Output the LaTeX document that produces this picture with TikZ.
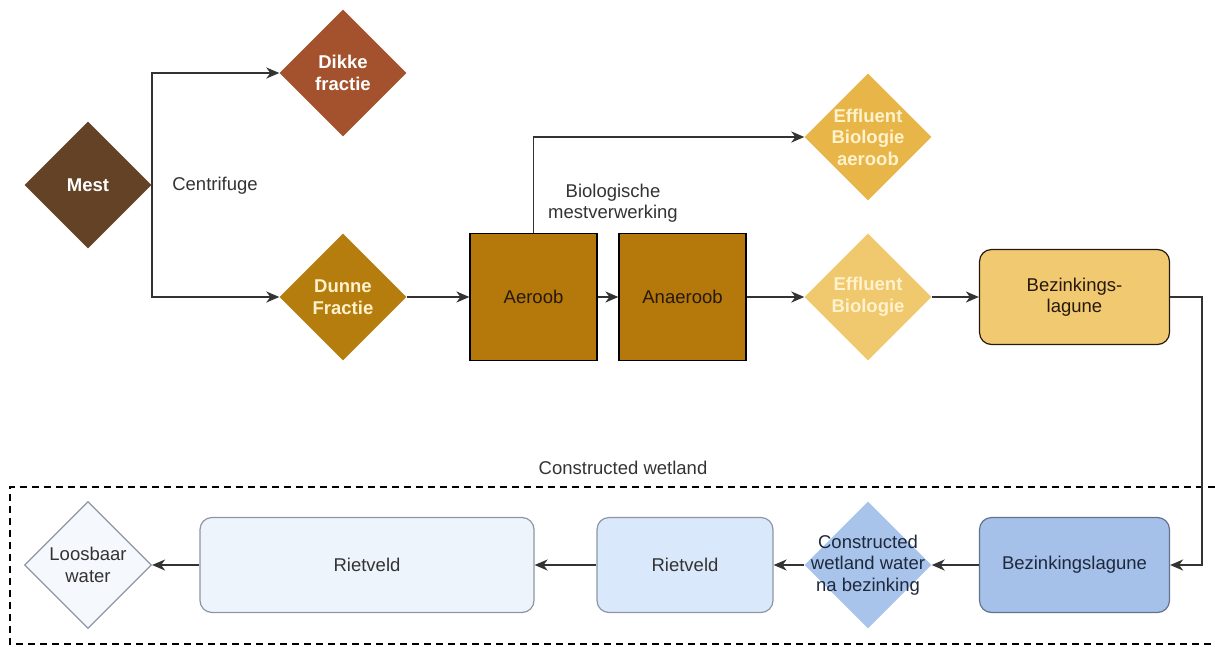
\documentclass[tikz,border=0pt]{standalone}
\usepackage{fontspec}
\setmainfont{Liberation Sans}
\usetikzlibrary{arrows.meta,shapes.geometric}

\definecolor{mestc}{RGB}{99,66,38}
\definecolor{dikkec}{RGB}{163,82,45}
\definecolor{dunnec}{RGB}{181,125,14}
\definecolor{boxc}{RGB}{181,120,10}
\definecolor{effac}{RGB}{231,181,72}
\definecolor{effc}{RGB}{240,200,110}
\definecolor{beztc}{RGB}{240,201,112}
\definecolor{bezbc}{RGB}{165,192,233}
\definecolor{cwwc}{RGB}{169,196,235}
\definecolor{rietac}{RGB}{218,232,252}
\definecolor{rietbc}{RGB}{238,244,252}
\definecolor{loosc}{RGB}{245,249,254}
\definecolor{linec}{RGB}{51,51,51}
\definecolor{cream}{RGB}{255,242,204}
\definecolor{navytext}{RGB}{30,40,60}
\definecolor{greyborder}{RGB}{140,150,165}

\begin{document}
\begin{tikzpicture}[x=1pt,y=-1pt,font=\fontsize{18.5}{21.5}\selectfont,node distance=149pt]

\tikzstyle{dia} = [diamond, minimum width=127pt, minimum height=127pt, inner sep=0pt, draw=none]
\tikzstyle{dtext} = [align=center, font=\fontsize{18.5}{21.5}\selectfont\bfseries]
\tikzstyle{sq} = [rectangle, minimum width=127pt, minimum height=127pt, draw=black, line width=1.2pt, fill=boxc, text=black!80!brown]
\tikzstyle{lag} = [rectangle, rounded corners=12pt, minimum width=190pt, minimum height=95pt, line width=1.2pt, align=center]
\tikzstyle{arr} = [draw=linec, line width=1.8pt, -{Stealth[length=13pt,width=11pt,inset=4pt]}]

\useasboundingbox (0,0) rectangle (1215,646);

% top part
\node (mest) [dia, fill=mestc, label={[dtext,text=white]center:Mest}] at (88,185) {};
\node (dikke) [dia, fill=dikkec, label={[dtext,text=white]center:Dikke\\fractie}] at (343,73) {};
\node (dunne) [dia, fill=dunnec, below of=dikke, node distance=224pt, label={[dtext,text=cream]center:Dunne\\Fractie}] {};
\node (aeroob) [sq] at (533.5,297) {Aeroob};
\node (anaeroob) [sq, right of=aeroob] {Anaeroob};
\node (effa) [dia, fill=effac, label={[dtext,text=cream]center:Effluent\\Biologie\\aeroob}] at (868,137) {};
\node (eff) [dia, fill=effc, below of=effa, node distance=160pt, label={[dtext,text=cream]center:Effluent\\Biologie}] {};
\node (bezt) [lag, fill=beztc, draw=black!80!brown, text=black!80!brown] at (1074.5,297) {Bezinkings-\\lagune};

\node (centrifuge) [text=linec] at (215,186) {Centrifuge};
\node (biolabel) [text=linec, align=center] at (613,203) {Biologische\\mestverwerking};

% constructed wetland
\node (cwlabel) [text=linec] at (623,468) {Constructed wetland};
\draw[dashed, dash pattern=on 7pt off 5pt, line width=1.2pt] (1215,487) -- (10,487) -- (10,644) -- (1215,644);

\node (bezb) [lag, fill=bezbc, draw=bezbc!60!black, text=navytext, below of=bezt, node distance=268pt] {Bezinkingslagune};
\node (cww) [dia, fill=cwwc, label={[align=center,text=navytext]center:Constructed\\wetland water\\na bezinking}] at (868,565) {};
\node (rieta) [lag, fill=rietac, draw=greyborder, text=linec, minimum width=176pt] at (685,565) {Rietveld};
\node (rietb) [lag, fill=rietbc, draw=greyborder, text=linec, minimum width=334pt] at (367,565) {Rietveld};
\node (loos) [dia, fill=loosc, draw=greyborder, line width=1.2pt, label={[align=center,text=linec]center:Loosbaar\\water}] at (88,565) {};

\draw[arr] (mest.east) |- (dikke.west);
\draw[arr] (mest.east) |- (dunne.west);
\draw[arr] (dunne.east) -- (aeroob.west);
\draw[arr] (aeroob.east) -- (anaeroob.west);
\draw[arr] (aeroob.north) |- (effa.west);
\draw[arr] (anaeroob.east) -- (eff.west);
\draw[arr] (eff.east) -- (bezt.west);
\draw[arr] (bezt.east) -- ++(32,0) |- (bezb.east);
\draw[arr] (bezb.west) -- (cww.east);
\draw[arr] (cww.west) -- (rieta.east);
\draw[arr] (rieta.west) -- (rietb.east);
\draw[arr] (rietb.west) -- (loos.east);
\end{tikzpicture}
\end{document}
